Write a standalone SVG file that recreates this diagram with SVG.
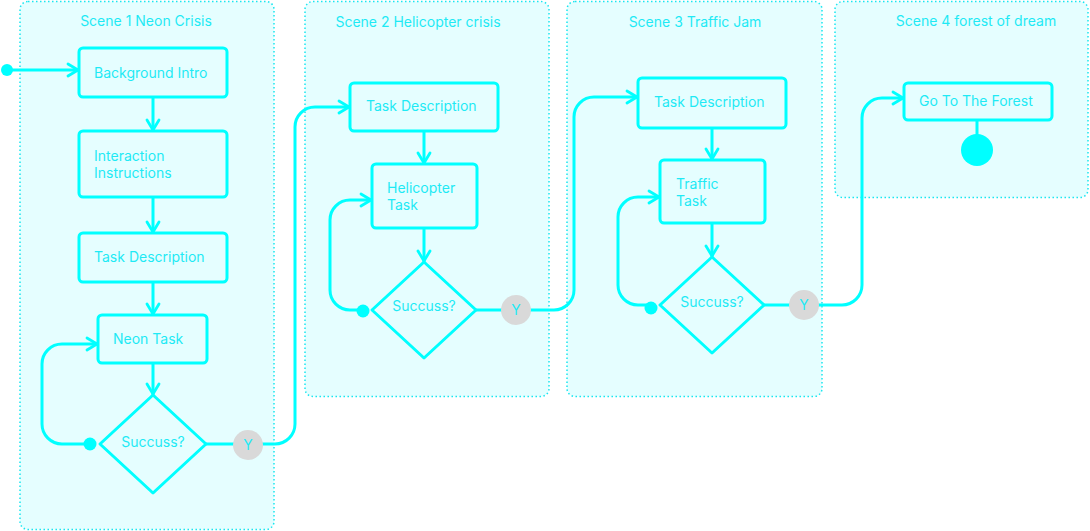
<svg xmlns="http://www.w3.org/2000/svg" width="1090" height="531" viewBox="0 0 1090 531">
<defs>
<style>
.scene{fill:#E5FEFF;stroke:#19E6F0;stroke-width:1.5;stroke-dasharray:1.5 2.5}
.title{font-family:Inter,"Noto Sans","Liberation Sans",sans-serif;font-size:14px;fill:#1EEAF5;text-anchor:middle}
.box{fill:#E5FEFF;stroke:#00FFFF;stroke-width:3;stroke-linejoin:round}
.lbl{font-family:Inter,"Noto Sans","Liberation Sans",sans-serif;font-size:14px;fill:#1EEAF5}
.mid{text-anchor:middle}
.conn{fill:none;stroke:#00FFFF;stroke-width:3;stroke-linecap:round}
.dot{fill:#00FFFF}
.yc{fill:#D9D9D9}
.yt{font-family:Inter,"Noto Sans","Liberation Sans",sans-serif;font-size:14px;fill:#1EEAF5;text-anchor:middle}
</style>
<marker id="arr" viewBox="0 0 14 16" refX="12" refY="8" markerWidth="14" markerHeight="16" markerUnits="userSpaceOnUse" orient="auto">
<path d="M2,2 L12,8 L2,14" fill="none" stroke="#00FFFF" stroke-width="2.8" stroke-linecap="round" stroke-linejoin="round"/>
</marker>
</defs>
<rect width="1090" height="531" fill="#FFFFFF"/>

<g id="scene1">
<rect class="scene" x="20" y="1.5" width="254" height="528" rx="8"/>
<text class="title" x="146" y="26">Scene 1 Neon Crisis</text>
</g>
<g id="scene2">
<rect class="scene" x="305" y="1.5" width="244" height="395" rx="8"/>
<text class="title" x="418" y="27">Scene 2 Helicopter crisis</text>
</g>
<g id="scene3">
<rect class="scene" x="567" y="1.5" width="255" height="395" rx="8"/>
<text class="title" x="695" y="27">Scene 3 Traffic Jam</text>
</g>
<g id="scene4">
<rect class="scene" x="835" y="1.5" width="253" height="196" rx="8"/>
<text class="title" x="976" y="26">Scene 4 forest of dream</text>
</g>

<g id="connectors">
<path class="conn" d="M7,70 H78" marker-end="url(#arr)"/>
<path class="conn" d="M153,97 V130" marker-end="url(#arr)"/>
<path class="conn" d="M153,197 V232" marker-end="url(#arr)"/>
<path class="conn" d="M153,282 V314" marker-end="url(#arr)"/>
<path class="conn" d="M153,363 V394" marker-end="url(#arr)"/>
<path class="conn" d="M90,444 H62 A20,20 0 0 1 42,424 V364 A20,20 0 0 1 62,344 H97" marker-end="url(#arr)"/>
<path class="conn" d="M206,444 H275 A20,20 0 0 0 295,424 V127 A20,20 0 0 1 315,107 H349" marker-end="url(#arr)"/>

<path class="conn" d="M424,131 V163" marker-end="url(#arr)"/>
<path class="conn" d="M424,228 V261" marker-end="url(#arr)"/>
<path class="conn" d="M363,310 H350 A20,20 0 0 1 330,290 V220 A20,20 0 0 1 350,200 H371" marker-end="url(#arr)"/>
<path class="conn" d="M476,310 H554 A20,20 0 0 0 574,290 V117 A20,20 0 0 1 594,97 H637" marker-end="url(#arr)"/>

<path class="conn" d="M712,128 V159" marker-end="url(#arr)"/>
<path class="conn" d="M712,223 V256" marker-end="url(#arr)"/>
<path class="conn" d="M651,305 H638 A20,20 0 0 1 618,285 V217 A20,20 0 0 1 638,197 H659" marker-end="url(#arr)"/>
<path class="conn" d="M764,305 H842 A20,20 0 0 0 862,285 V118 A20,20 0 0 1 882,98 H903" marker-end="url(#arr)"/>

<path class="conn" d="M977,120 V140"/>
</g>

<g id="start"><circle class="dot" cx="7" cy="70" r="6"/></g>

<g id="bg-intro">
<rect class="box" x="79" y="48" width="148" height="49" rx="4"/>
<text class="lbl" x="94" y="78">Background Intro</text>
</g>
<g id="interaction">
<rect class="box" x="79" y="131" width="148" height="66" rx="4"/>
<text class="lbl" x="94" y="161">Interaction</text>
<text class="lbl" x="94" y="178">Instructions</text>
</g>
<g id="task-desc-1">
<rect class="box" x="79" y="233" width="148" height="49" rx="4"/>
<text class="lbl" x="94" y="262">Task Description</text>
</g>
<g id="neon-task">
<rect class="box" x="98" y="315" width="109" height="48" rx="4"/>
<text class="lbl" x="113" y="344">Neon Task</text>
</g>
<g id="success-1">
<polygon class="box" points="153,395 206,444 153,493 100,444"/>
<text class="lbl mid" x="153" y="447">Succuss?</text>
</g>
<g id="loop-dot-1"><circle class="dot" cx="90" cy="444" r="6.5"/></g>
<g id="y-1">
<circle class="yc" cx="248" cy="445" r="15"/>
<text class="yt" x="248" y="450">Y</text>
</g>

<g id="task-desc-2">
<rect class="box" x="350" y="83" width="148" height="48" rx="4"/>
<text class="lbl" x="366" y="111">Task Description</text>
</g>
<g id="heli-task">
<rect class="box" x="372" y="164" width="105" height="64" rx="4"/>
<text class="lbl" x="387" y="193">Helicopter</text>
<text class="lbl" x="387" y="210">Task</text>
</g>
<g id="success-2">
<polygon class="box" points="424,262 476,310 424,358 372,310"/>
<text class="lbl mid" x="424" y="311">Succuss?</text>
</g>
<g id="loop-dot-2"><circle class="dot" cx="363" cy="311" r="6.5"/></g>
<g id="y-2">
<circle class="yc" cx="516" cy="310" r="15"/>
<text class="yt" x="516" y="315">Y</text>
</g>

<g id="task-desc-3">
<rect class="box" x="638" y="78" width="148" height="50" rx="4"/>
<text class="lbl" x="654" y="107">Task Description</text>
</g>
<g id="traffic-task">
<rect class="box" x="660" y="160" width="105" height="63" rx="4"/>
<text class="lbl" x="676" y="189">Traffic</text>
<text class="lbl" x="676" y="206">Task</text>
</g>
<g id="success-3">
<polygon class="box" points="712,257 764,305 712,353 660,305"/>
<text class="lbl mid" x="712" y="307">Succuss?</text>
</g>
<g id="loop-dot-3"><circle class="dot" cx="651" cy="308" r="6.5"/></g>
<g id="y-3">
<circle class="yc" cx="804" cy="305" r="15"/>
<text class="yt" x="804" y="310">Y</text>
</g>

<g id="go-forest">
<rect class="box" x="904" y="83" width="148" height="37" rx="4"/>
<text class="lbl" x="919" y="106">Go To The Forest</text>
</g>
<g id="end"><circle class="dot" cx="977" cy="150" r="16"/></g>
</svg>
